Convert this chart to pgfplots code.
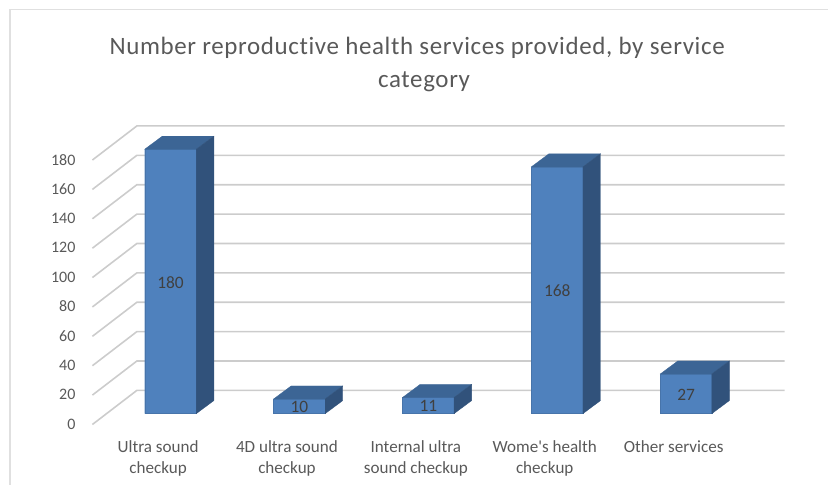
\documentclass[border=0pt]{standalone}
\usepackage{fontspec}
\setmainfont[Ligatures=NoCommon]{Carlito}
\usepackage{pgfplots}
\pgfplotsset{compat=1.18}
\definecolor{txt}{HTML}{595959}
\definecolor{lab}{HTML}{404040}
\definecolor{fr}{HTML}{4F81BD}
\definecolor{tp}{HTML}{3C6595}
\definecolor{sd}{HTML}{31527B}
\definecolor{gr}{HTML}{CCCCCC}
\newfontfamily\titlefont[LetterSpace=2.5,Ligatures=NoCommon]{Carlito}
\pgfplotstableread{
x mid lab
0 90 180
1 5 10
2 5.5 11
3 84 168
4 13.5 27
}\labels
\begin{document}
\begin{tikzpicture}[x=1pt,y=1pt]
\path (0,0) rectangle (829,485);
\draw[color=black!12,line width=1.6pt] (10,0) -- (10,475.3) -- (829,475.3);
\node[align=center,text=txt,font=\titlefont\fontsize{25}{33}\selectfont] at (417.5,420) {Number reproductive health services provided, by service\\\hspace*{14pt}category};
\begin{axis}[
  at={(92.5pt,55pt)},anchor=south west,
  x=129pt,y=1.4706pt,
  xmin=-0.6066,xmax=4.7655,ymin=-10.88,ymax=199.9,
  clip=false,
  axis line style={draw=none},
  tick style={draw=none},
  xtick={0,1,2,3,4},
  xticklabels={Ultra sound\\checkup,4D ultra sound\\checkup,Internal ultra\\sound checkup,Wome\textquotesingle s health\\checkup,Other services},
  xticklabel style={align=center,text=txt,font=\fontsize{17.1}{21}\selectfont,xshift=-12.5pt,anchor=north,yshift=-8pt},
  ytick={0,20,...,180},
  /pgf/number format/assume math mode=true,
  yticklabel style={text=txt,font=\fontsize{16}{20}\selectfont,anchor=east,xshift=-13.5pt,yshift=-10.5pt},
]
% wall grid with depth lines
\pgfplotsinvokeforeach{0,20,...,180}{
  \addplot[gr,line width=1.6pt,no marks,forget plot] coordinates {(-0.6066,#1-7.4) (-0.2616,#1+15.8) (4.7655,#1+15.8)};
}
% front faces
\addplot[ybar,bar width=51.75pt,fill=fr,draw=fr!90!black,line width=0.4pt,forget plot] coordinates {(0,180) (1,10) (2,11) (3,168) (4,27)};
% top faces
\addplot[fill=tp,draw=tp,line width=0.3pt,forget plot] coordinates {(-0.2,180) (0.2,180) (0.3357,188.84) (-0.0643,188.84)} -- cycle;
\addplot[fill=tp,draw=tp,line width=0.3pt,forget plot] coordinates {(0.8,10) (1.2,10) (1.3357,18.84) (0.9357,18.84)} -- cycle;
\addplot[fill=tp,draw=tp,line width=0.3pt,forget plot] coordinates {(1.8,11) (2.2,11) (2.3357,19.84) (1.9357,19.84)} -- cycle;
\addplot[fill=tp,draw=tp,line width=0.3pt,forget plot] coordinates {(2.8,168) (3.2,168) (3.3357,176.84) (2.9357,176.84)} -- cycle;
\addplot[fill=tp,draw=tp,line width=0.3pt,forget plot] coordinates {(3.8,27) (4.2,27) (4.3357,35.84) (3.9357,35.84)} -- cycle;
% side faces
\addplot[fill=sd,draw=sd,line width=0.3pt,forget plot] coordinates {(0.2,0) (0.3357,8.84) (0.3357,188.84) (0.2,180)} -- cycle;
\addplot[fill=sd,draw=sd,line width=0.3pt,forget plot] coordinates {(1.2,0) (1.3357,8.84) (1.3357,18.84) (1.2,10)} -- cycle;
\addplot[fill=sd,draw=sd,line width=0.3pt,forget plot] coordinates {(2.2,0) (2.3357,8.84) (2.3357,19.84) (2.2,11)} -- cycle;
\addplot[fill=sd,draw=sd,line width=0.3pt,forget plot] coordinates {(3.2,0) (3.3357,8.84) (3.3357,176.84) (3.2,168)} -- cycle;
\addplot[fill=sd,draw=sd,line width=0.3pt,forget plot] coordinates {(4.2,0) (4.3357,8.84) (4.3357,35.84) (4.2,27)} -- cycle;
% value labels
\addplot[draw=none,no marks,point meta=explicit symbolic,
  nodes near coords,nodes near coords align=center,
  every node near coord/.append style={text=lab,font=\fontsize{17.4}{20}\selectfont,inner sep=0pt,anchor=center,yshift=-0.8pt}]
  table[x=x,y=mid,meta=lab] {\labels};
\end{axis}
\end{tikzpicture}
\end{document}
